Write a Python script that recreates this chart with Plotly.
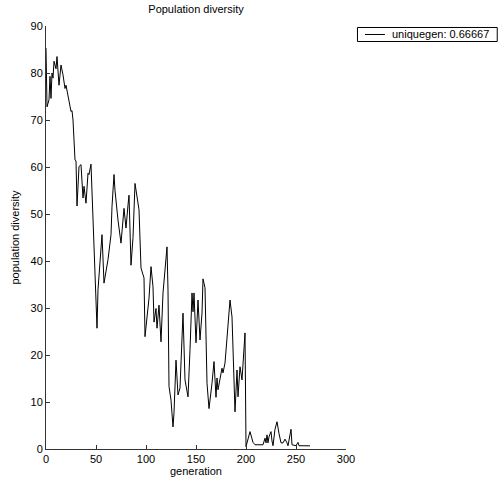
import plotly.graph_objects as go

generation = [0, 1, 3, 4, 5, 6, 7, 8, 10, 11, 13, 15, 17, 19, 20, 22, 25, 26, 27, 29, 30,
              31, 33, 35, 37, 38, 40, 42, 43, 45, 47, 49, 51, 52, 54, 56, 58, 61, 62, 65,
              66, 68, 69, 72, 75, 78, 80, 82, 83, 85, 87, 89, 93, 95, 98, 99, 101, 103,
              105, 107, 108, 110, 111, 113, 115, 117, 121, 122, 123, 125, 127, 128, 130,
              132, 134, 137, 139, 141, 142, 144, 146, 147, 148, 150, 152, 154, 156, 157,
              159, 161, 163, 166, 168, 170, 171, 172, 174, 176, 177, 179, 181, 184, 186,
              188, 189, 191, 192, 194, 196, 199, 200, 204, 206, 207, 209, 217, 219, 220,
              221, 222, 223, 225, 226, 227, 229, 231, 233, 235, 237, 239, 241, 242, 245,
              246, 250, 252, 253, 264]
diversity = [85.3, 72.8, 74.3, 79.3, 74.6, 80.0, 78.9, 82.5, 80.9, 83.5, 77.4, 81.7, 79.6,
             76.7, 77.4, 75.0, 71.8, 72.0, 70.0, 61.5, 61.3, 51.7, 60.1, 60.5, 53.4, 55.9,
             52.3, 58.7, 58.4, 60.6, 48.8, 36.0, 25.7, 33.9, 38.9, 45.6, 35.3, 38.9, 40.3,
             45.6, 51.6, 58.4, 55.0, 48.7, 43.8, 51.2, 47.0, 51.9, 54.0, 39.1, 45.0, 56.5,
             50.9, 38.5, 36.4, 23.9, 28.1, 32.1, 38.8, 34.5, 27.0, 29.9, 25.7, 30.6, 22.8,
             33.2, 43.0, 33.8, 13.3, 10.4, 4.7, 7.7, 18.9, 11.5, 13.0, 28.9, 14.7, 12.2,
             11.1, 21.1, 33.2, 29.2, 33.2, 22.6, 31.7, 23.2, 28.9, 36.2, 34.3, 14.0, 8.6,
             14.0, 18.6, 11.0, 15.1, 12.6, 14.7, 17.2, 16.2, 18.3, 23.6, 31.7, 28.1, 14.0,
             7.9, 16.8, 11.1, 17.5, 14.7, 24.7, 0.5, 3.7, 2.3, 1.4, 0.9, 0.9, 2.3, 1.3,
             3.0, 1.3, 2.6, 3.7, 1.7, 0.7, 4.2, 5.8, 3.3, 1.3, 1.3, 2.1, 1.3, 0.7, 4.2,
             0.9, 0.7, 1.4, 0.7, 0.67]
series_name = "uniquegen: 0.66667"
x_ticks = [0, 50, 100, 150, 200, 250, 300]
y_ticks = [0, 10, 20, 30, 40, 50, 60, 70, 80, 90]

FONT = "Liberation Sans, Arial, Helvetica, sans-serif"
W, H = 503, 481
ML, MR, MT, MB = 45.5, 157, 26, 31.7
PW, PH = W - ML - MR, H - MT - MB


def px_x(px):
    return (px - ML) / PW


def px_y(py):
    return (H - MB - py) / PH


fig = go.Figure()
fig.add_trace(go.Scatter(x=generation, y=diversity, mode="lines", name=series_name,
                         line=dict(color="black", width=1), showlegend=False))

axis_common = dict(showline=True, linecolor="#333", linewidth=1, ticks="inside",
                   ticklen=4, tickcolor="#333", showgrid=False, zeroline=False,
                   automargin=False,
                   tickfont=dict(family=FONT, size=11, color="black"))

# legend box (drawn with shapes so it matches the compact reference box)
fig.add_shape(type="rect", xref="paper", yref="paper",
              x0=px_x(357.5), x1=px_x(497.5), y0=px_y(41.5), y1=px_y(27.5),
              line=dict(color="black", width=1), fillcolor="white")
fig.add_shape(type="line", xref="paper", yref="paper",
              x0=px_x(365), x1=px_x(385), y0=px_y(34.5), y1=px_y(34.5),
              line=dict(color="black", width=1))
fig.add_annotation(text=series_name, xref="paper", yref="paper",
                   x=px_x(390), y=px_y(34.5), xanchor="left", yanchor="middle",
                   showarrow=False, font=dict(family=FONT, size=11, color="black"))

fig.update_layout(
    width=W, height=H,
    margin=dict(l=ML, r=MR, t=MT, b=MB, autoexpand=False),
    paper_bgcolor="white", plot_bgcolor="white",
    font=dict(family=FONT, size=11, color="black"),
    showlegend=False,
    title=dict(text="Population diversity", xref="paper", x=0.5, xanchor="center",
               yref="container", y=1 - 9 / H, yanchor="middle", font=dict(size=11)),
    xaxis=dict(range=[0, 300], tickvals=x_ticks,
               title=dict(text="generation", standoff=2, font=dict(size=11)),
               **axis_common),
    yaxis=dict(range=[0, 90], tickvals=y_ticks,
               title=dict(text="population diversity", standoff=8, font=dict(size=11)),
               **axis_common),
)

fig.write_html("out.html", config={"displayModeBar": False},
               post_script="document.body.style.margin='0';")
